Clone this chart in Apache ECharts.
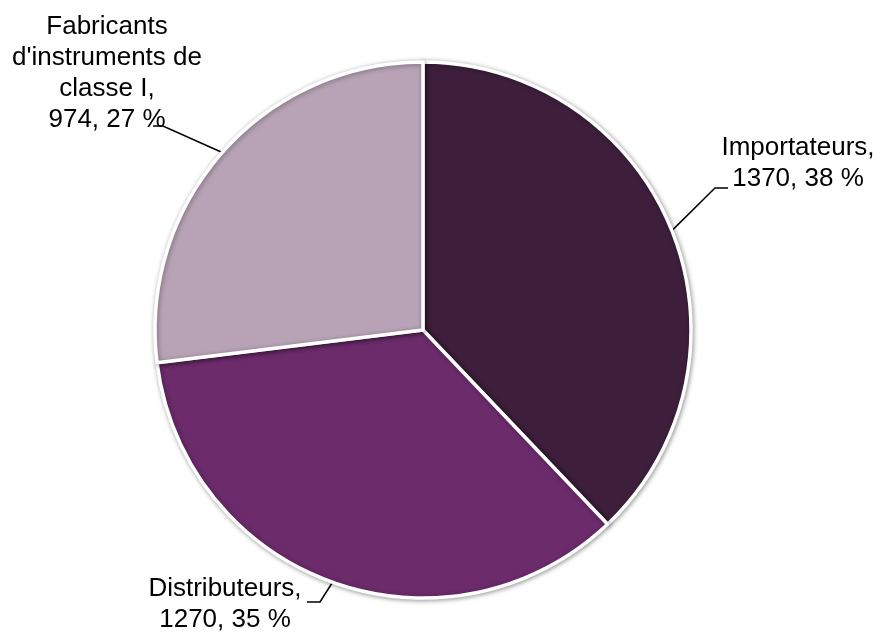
<!DOCTYPE html>
<html>
<head>
<meta charset="utf-8">
<script src="https://cdn.jsdelivr.net/npm/echarts@6/dist/echarts.min.js"></script>
<style>
  html, body { margin: 0; padding: 0; background: #ffffff; }
  #chart { width: 878px; height: 637px; }
</style>
</head>
<body>
<div id="chart"></div>
<script>
// Répartition des opérateurs
const categories = ["Importateurs", "Distributeurs", "Fabricants\nd'instruments de\nclasse I"];
const values = [1370, 1270, 974];
const sliceColors = ['#3d1f3b', '#6c2b6b', '#b7a3b5'];

// Label anchors (text block centre) and the bend/end of each leader line
const labelAnchors = [[798, 163], [225, 604], [107, 73]];
const leaderBends = [
  [[715, 188], [728, 188]],
  [[320, 602], [307, 602]],
  [[163, 126], [153, 126]]
];

const chart = echarts.init(document.getElementById('chart'), null, { renderer: 'canvas' });

chart.setOption({
  backgroundColor: '#ffffff',
  animation: false,
  series: [{
    type: 'pie',
    center: [423, 330],
    radius: 268,
    startAngle: 90,
    clockwise: true,
    percentPrecision: 0,
    avoidLabelOverlap: false,
    data: categories.map((name, i) => ({
      name: name,
      value: values[i],
      itemStyle: { color: sliceColors[i] }
    })),
    itemStyle: {
      borderColor: '#ffffff',
      borderWidth: 3.5,
      shadowBlur: 5,
      shadowOffsetX: 1,
      shadowOffsetY: 1,
      shadowColor: 'rgba(0,0,0,0.35)'
    },
    label: {
      show: true,
      position: 'outside',
      formatter: '{b},\n{c}, {d} %',
      color: '#000000',
      fontFamily: 'Liberation Sans, Arial, sans-serif',
      fontSize: 26,
      lineHeight: 31,
      align: 'center'
    },
    labelLine: {
      show: true,
      length: 20,
      length2: 10,
      lineStyle: { color: '#000000', width: 1.5 }
    },
    labelLayout: function (params) {
      const i = params.dataIndex;
      const start = params.labelLinePoints ? params.labelLinePoints[0] : leaderBends[i][0];
      return {
        x: labelAnchors[i][0],
        y: labelAnchors[i][1],
        align: 'center',
        verticalAlign: 'middle',
        labelLinePoints: [start, leaderBends[i][0], leaderBends[i][1]]
      };
    }
  }]
});
</script>
</body>
</html>
